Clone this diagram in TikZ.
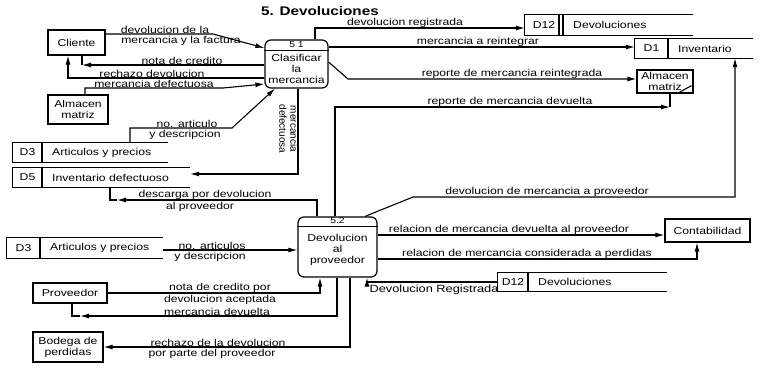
\documentclass[tikz,border=0pt]{standalone}
\usepackage{fontspec}
\setmainfont{Liberation Sans}[FakeStretch=1.22]
\newfontfamily\uprightfont{Liberation Sans}
\usetikzlibrary{arrows.meta,calc}

% fonts used in the data flow diagram
\newcommand\lblfont{\fontsize{10}{11}\selectfont}
\newcommand\hdrfont{\fontsize{8.5}{9}\selectfont}
\newcommand\ttlfont{\fontsize{12.5}{14}\selectfont\bfseries}

\tikzset{
  every node/.style={font=\lblfont, inner sep=1pt},
  entity/.style={draw, line width=1.2pt, inner sep=0pt, align=center},
  proc/.style={draw, rounded corners=6pt, line width=1.2pt, inner sep=0pt},
  storebox/.style={inner sep=0pt},
  storeline/.style={line width=1.1pt},
  flow/.style={line width=1.1pt},
  arr/.style={flow, -{Latex[length=9pt,width=5pt]}},
  lblup/.style={anchor=south, inner sep=0.6pt},
  lbldn/.style={anchor=north, inner sep=1.2pt},
}

% data store: name, left, top, right, bottom, separator x, id, label
\newcommand\dstore[8]{%
  \node[storebox, minimum width={#4-#2}, minimum height={#5-#3}] (#1) at ({(#2+#4)/2},{(#3+#5)/2}) {};
  \draw[storeline] (#1.north east) -- (#1.north west) -- (#1.south west) -- (#1.south east);
  \draw[storeline] ({#6},{#3}) -- ({#6},{#5});
  \node (#1-id) at ({(#2+#6)/2},{(#3+#5)/2}) {#7};
  \node[anchor=west] (#1-lbl) at ({#6+9},{(#3+#5)/2}) {#8};
}

\begin{document}
\begin{tikzpicture}[x=1pt,y=-1pt]
\useasboundingbox (0,0) rectangle (761,370);

\node[font=\ttlfont] (title) at (320,11) {5. Devoluciones};

% external entities
\node[entity, minimum width=57, minimum height=25] (cli) at (76.5,42.5) {Cliente};
\node[entity, minimum width=60, minimum height=29] (alm1) at (78,109.5) {Almacen\\matriz};
\node[entity, minimum width=56, minimum height=23] (alm2) at (665,81.5) {Almacen\\matriz};
\draw[flow] ($(alm2.south east)+(-14,-1.5)$) -- ($(alm2.south east)+(-2,-8)$);
\node[entity, minimum width=74, minimum height=20] (prov) at (70,293) {Proveedor};
\node[entity, minimum width=70, minimum height=30] (bod) at (68,347) {Bodega de\\perdidas};
\node[entity, minimum width=85, minimum height=23] (cont) at (707.5,230.5) {Contabilidad};

% processes
\node[proc, minimum width=63, minimum height=48] (p51) at (296.5,64) {};
\draw[line width=1pt] (p51.west |- 0,50) -- (p51.east |- 0,50);
\node[font=\hdrfont] (p51h) at (296.5,45) {5 1};
\node[align=center] (p51t) at (296.5,69) {Clasificar\\la\\mercancia};

\node[proc, minimum width=79, minimum height=60] (p52) at (337.5,247) {};
\draw[line width=1pt] (p52.west |- 0,226) -- (p52.east |- 0,226);
\node[font=\hdrfont] (p52h) at (337.5,221) {5.2};
\node[align=center] (p52t) at (337.5,249.5) {Devolucion\\al\\proveedor};

% data stores
\dstore{d12a}{525}{15}{693}{35}{563}{D12}{Devoluciones}
\draw[storeline] (559,15) -- (559,35);
\dstore{d1}{635}{39}{753}{58}{668}{D1}{Inventario}
\dstore{d3a}{13}{143}{168}{162}{42}{D3}{Articulos y precios}
\dstore{d5}{13}{168}{190}{187}{42}{D5}{Inventario defectuoso}
\dstore{d3b}{7}{238}{163}{258}{40}{D3}{Articulos y precios}
\dstore{d12b}{498}{273}{667}{291}{528}{D12}{Devoluciones}

% flows around 5.1
\draw[arr] (cli.east |- 0,34) -- (213,34) -- (p51.west |- 0,48);
\node[lblup] (f1a) at (165,34) {devolucion de la};
\node[lbldn] (f1b) at (181,35) {mercancia y la factura};

\draw[arr] (p51.west |- 0,65) -- (82,65) coordinate (c2);
\draw[flow] (c2) -- (cli.south -| c2);
\node[lblup] (f2) at (182,65) {nota de credito};

\draw[arr] (p51.west |- 0,78) -- (68,78) -- (cli.south -| 68,0);
\node[lblup] (f3) at (152,78) {rechazo devolucion};

\draw[arr] (alm1.north -| 85,0) -- (85,88) -- (223,88) -- (p51.west |- 0,84);
\node[lblup] (f4) at (154,88) {mercancia defectuosa};

\draw[arr] (d3a.north -| 130,0) -- (130,128) -- (232,128) -- (p51.south -| 275,0);
\node[lblup] (f5a) at (187,128) {no. articulo};
\node[lbldn] (f5b) at (185,129) {y descripcion};

\draw[arr] (p51.south -| 298,0) -- (298,174) -- (d5.east |- 0,174);
\node[rotate=-90, align=center, font=\uprightfont\fontsize{10}{11}\selectfont] (f6) at (288.5,129) {mercancia\\defectuosa};

\draw[arr] (p51.north -| 315,0) -- (315,28) -- (d12a.west |- 0,28);
\node[lblup] (f7) at (405,28) {devolucion registrada};

\draw[arr] (p51.east |- 0,47) -- (d1.west |- 0,47);
\node[lblup] (f8) at (478,47) {mercancia a reintegrar};

\draw[arr] (p51.east |- 0,62) -- (348,79) -- (alm2.west |- 0,79);
\node[lblup] (f9) at (512,79) {reporte de mercancia reintegrada};

% flows around 5.2
\draw[arr] (p52.north -| 335,0) -- (335,107) -- (670,107) coordinate (c10);
\draw[flow] (c10) -- (alm2.south -| c10);
\node[lblup] (f10) at (510,107) {reporte de mercancia devuelta};

\draw[arr] (p52.north -| 365,0) -- (413,197) -- (735,197) -- (d1.south -| 735,0);
\node[lblup] (f11) at (547,197) {devolucion de mercancia a proveedor};

\draw[arr] (p52.north -| 317,0) -- (317,200) -- (117,200) coordinate (c12);
\draw[flow] (c12) -- (110,200) -- (d5.south -| 110,0);
\node[lblup] (f12a) at (205,200) {descarga por devolucion};
\node[lbldn] (f12b) at (200,201) {al proveedor};

\draw[arr] (d3b.east |- 0,250) -- (p52.west |- 0,250);
\node[lblup] (f13a) at (212,250) {no. articulos};
\node[lbldn] (f13b) at (210,251) {y descripcion};

\draw[arr] (p52.east |- 0,235) -- (cont.west |- 0,235);
\node[lblup] (f14) at (509,235) {relacion de mercancia devuelta al proveedor};

\draw[arr] (p52.east |- 0,259) -- (697,259) -- (cont.south -| 697,0);
\node[lblup] (f15) at (527,259) {relacion de mercancia considerada a perdidas};

\draw[arr] (d12b.west |- 0,282) -- (367,282) -- (p52.south -| 367,0);
\node[lbldn, font=\fontsize{10.5}{12}\selectfont] (f16) at (434,283) {Devolucion Registrada};

\draw[arr] (prov.east |- 0,293) -- (320,293) -- (p52.south -| 320,0);
\node[lblup] (f17a) at (220,293) {nota de credito por};
\node[lbldn] (f17b) at (220,294) {devolucion aceptada};

\draw[arr] (p52.south -| 337,0) -- (337,316) -- (80,316) coordinate (c18);
\draw[flow] (c18) -- (72,316) -- (prov.south -| 72,0);
\node[lblup] (f18) at (217,316) {mercancia devuelta};

\draw[arr] (p52.south -| 350,0) -- (350,347) -- (bod.east |- 0,347);
\node[lblup] (f19a) at (218,347) {rechazo de la devolucion};
\node[lbldn] (f19b) at (212,348) {por parte del proveedor};
\end{tikzpicture}
\end{document}
